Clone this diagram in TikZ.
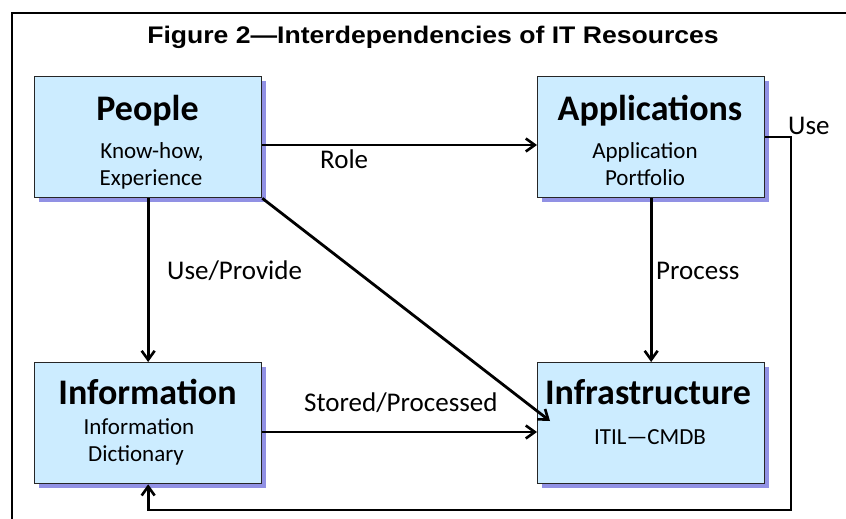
\documentclass[tikz,border=0pt]{standalone}
\usepackage{fontspec}
\setmainfont{Carlito}
\newfontfamily\titlefont{Liberation Sans}
\usetikzlibrary{arrows.meta,calc,shadows}

\definecolor{boxfill}{RGB}{204,236,255}
\definecolor{boxshadow}{RGB}{145,145,228}

\begin{document}
\begin{tikzpicture}[x=1pt,y=-1pt,
  box/.style={draw=black!85, line width=1.3pt, fill=boxfill,
    minimum width=227pt, minimum height=121pt, inner sep=0pt, anchor=north west,
    general shadow={fill=boxshadow, shadow xshift=4pt, shadow yshift=-4pt}},
  head/.style={anchor=base, inner sep=0pt, font=\fontsize{36}{40}\selectfont\bfseries},
  sub/.style={anchor=base, inner sep=0pt, font=\fontsize{23}{27}\selectfont},
  lbl/.style={anchor=base west, inner sep=0pt, font=\fontsize{27}{31}\selectfont},
  conn/.style={line width=2.8pt, miter limit=4,
    -{Straight Barb[length=9pt,width=13pt,line width=2.6pt]}}
]
\useasboundingbox (0,0) rectangle (846,519);

% outer frame
\draw[line width=2.5pt] (12,540) -- (12,13) -- (870,13);

% title
\node[anchor=base, inner sep=0pt] (title) at (433,44)
  {\scalebox{1.107}[1]{\titlefont\fontsize{24}{28}\selectfont\bfseries Figure 2\textemdash Interdependencies of IT Resources}};

% the four resource boxes
\node[box] (people) at (34,76) {};
\node[box] (apps)   at (537,76) {};
\node[box] (info)   at (34,362) {};
\node[box] (infra)  at (537,362) {};

% box texts
\node[head] (peopleT) at (147.5,121) {People};
\node[sub]  (peopleA) at (152,158) {Know-how,};
\node[sub]  (peopleB) at (151,185) {Experience};

\node[head] (appsT) at (650,121) {Applications};
\node[sub]  (appsA) at (645,158) {Application};
\node[sub]  (appsB) at (645,185) {Portfolio};

\node[head] (infoT) at (147.5,404) {Information};
\node[sub]  (infoA) at (139,434) {Information};
\node[sub]  (infoB) at (136,461) {Dictionary};

\node[head] (infraT) at (648,404) {Infrastructure};
\node[sub]  (infraA) at (650,444) {ITIL—CMDB};

% connectors
\coordinate (diagEnd) at ($(infra.north west)+(13,59)$);
\coordinate (loopCorner) at (791,510);

\draw[conn] (people.east |- 0,145) -- (apps.west |- 0,145);
\draw[conn] (people.south) -- (info.north);
\draw[conn] (apps.south) -- (infra.north);
\draw[conn] (people.south east) -- (diagEnd);
\draw[conn] (info.east |- 0,432) -- (infra.west |- 0,432);
\draw[conn] (apps.east |- 0,137) -| (loopCorner) -| (info.south);

% connector labels
\node[lbl] (roleL)    at (320,168) {Role};
\node[lbl] (useProvL) at (167,279) {Use/Provide};
\node[lbl] (procL)    at (656,279) {Process};
\node[lbl] (storedL)  at (304,411) {Stored/Processed};
\node[lbl] (useL)     at (788,134) {Use};
\end{tikzpicture}
\end{document}
